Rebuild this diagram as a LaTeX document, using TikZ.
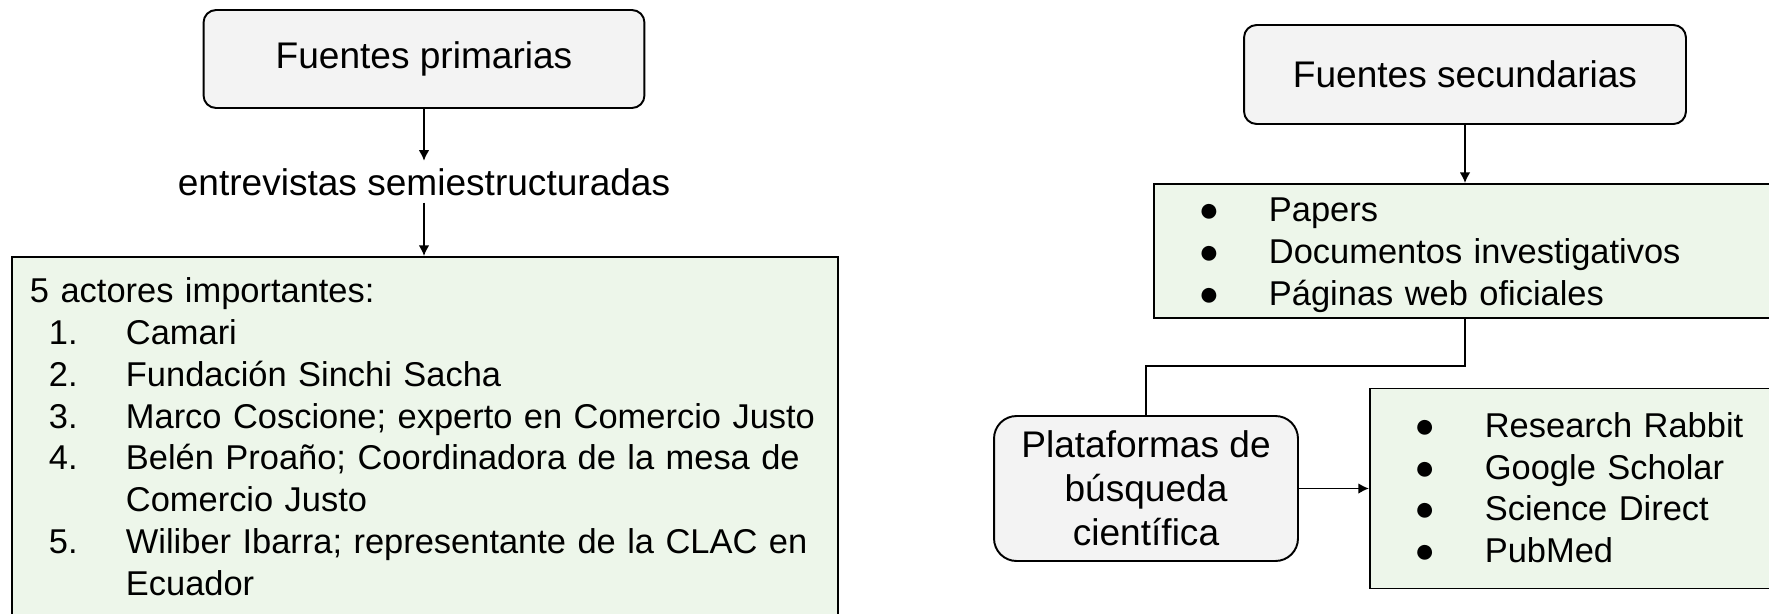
\documentclass[tikz,border=0pt]{standalone}
\usepackage{fontspec}
\setmainfont{Liberation Sans}
\usetikzlibrary{positioning,arrows.meta}

\definecolor{boxgray}{HTML}{F3F3F3}
\definecolor{listgreen}{HTML}{EDF6EA}

\newcommand{\numitem}[1]{\makebox[2.28cm][l]{\hspace{0.74cm}#1}}
\newcommand{\bulitem}{\makebox[2.3cm][l]{\makebox[2.2cm]{●}}}

\begin{document}
\begin{tikzpicture}[
    x=0.02cm, y=-0.02cm,
    head/.style={rectangle, draw, line width=1.1pt, rounded corners=0.25cm, fill=boxgray, align=center, font=\fontsize{21.1pt}{25pt}\selectfont},
    listbox/.style={rectangle, draw, line width=1.1pt, fill=listgreen, align=left, inner xsep=0pt, inner ysep=0pt, font=\fontsize{19.6pt}{23.75pt}\selectfont},
    midtext/.style={font=\fontsize{21.1pt}{25pt}\selectfont, inner sep=4pt},
    arrow/.style={-{Latex[length=6pt,width=6pt]}, line width=0.9pt},
    plainline/.style={line width=0.9pt}
]
    \useasboundingbox (0,0) rectangle (1769,613);

    % Primary sources
    \node[head, minimum width=8.82cm, minimum height=1.96cm] (fp) at (424,59) {Fuentes primarias};
    \node[midtext, anchor=base] (ent) at (424,195) {entrevistas semiestructuradas};
    \node[listbox, anchor=north west, text width=16.52cm, text height=0.92cm, text depth=6.9cm] (actors) at (11,256) {%
        \hspace*{0.36cm}5 actores importantes:\\
        \numitem{1.}Camari\\
        \numitem{2.}Fundación Sinchi Sacha\\
        \numitem{3.}Marco Coscione; experto en Comercio Justo\\
        \numitem{4.}Belén Proaño; Coordinadora de la mesa de\\
        \numitem{}Comercio Justo\\
        \numitem{5.}Wiliber Ibarra; representante de la CLAC en\\
        \numitem{}Ecuador};

    % Secondary sources
    \node[head, minimum width=8.84cm, minimum height=1.98cm] (fs) at (1465,74.5) {Fuentes secundarias};
    \node[listbox, anchor=north west, text width=12.4cm, text height=0.76cm, text depth=1.92cm] (papers) at (1153,183) {%
        \bulitem Papers\\
        \bulitem Documentos investigativos\\
        \bulitem Páginas web oficiales};
    \node[head, rounded corners=0.45cm, minimum width=6.08cm, minimum height=2.9cm] (plat) at (1146,488.5) {Plataformas de\\búsqueda\\científica};
    \node[listbox, right=1.4cm of plat, text width=8.1cm, text height=0.98cm, text depth=3.02cm] (tools) {%
        \bulitem Research Rabbit\\
        \bulitem Google Scholar\\
        \bulitem Science Direct\\
        \bulitem PubMed};

    % Arrows
    \draw[arrow] (fp) -- (ent);
    \draw[arrow] (ent) -- (ent.south |- actors.north);
    \draw[arrow] (fs) -- (fs.south |- papers.north);
    \draw[arrow] (plat.east) -- (plat.east -| tools.west);

    % Link to the search platforms
    \coordinate (bend) at (1146,366);
    \draw[plainline] (fs.south |- papers.south) |- (bend) -- (plat.north);

\end{tikzpicture}
\end{document}
